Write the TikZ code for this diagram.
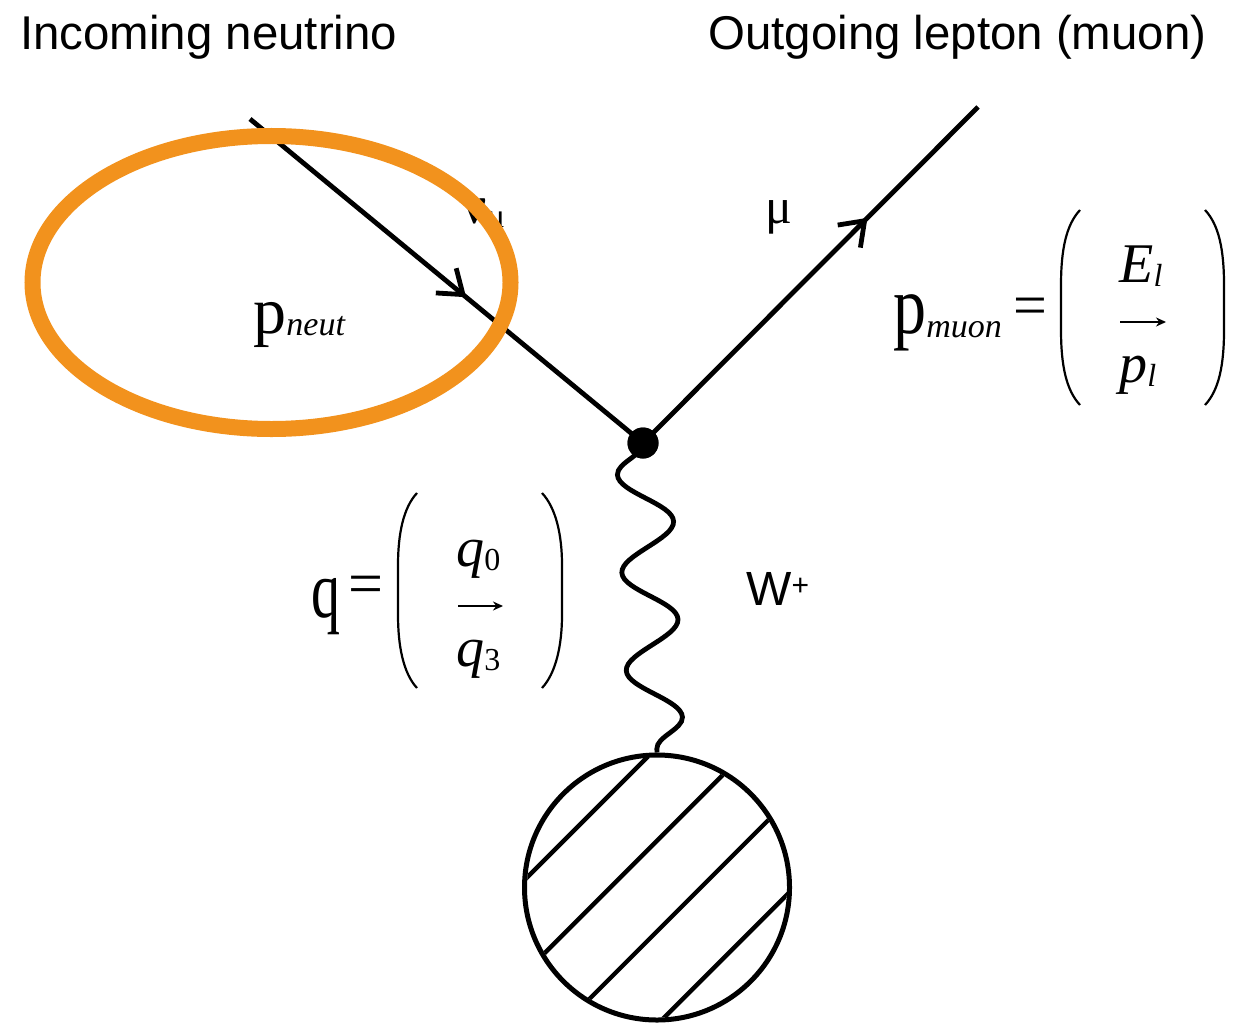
\documentclass[tikz,border=0pt]{standalone}
\usepackage{fontspec}
\setmainfont{Liberation Serif}
\newfontfamily\headfont{Liberation Sans}
\usetikzlibrary{
  arrows.meta,
  calc,
  decorations.pathmorphing,
  decorations.markings
}
\definecolor{ringorange}{RGB}{242,146,29}
\newcommand{\fsz}[1]{\fontsize{#1}{#1}\selectfont}
\newcommand{\tall}[2]{\scalebox{1}[#1]{#2}}
\tikzset{
  line cap=round,
  line join=round,
  fermion/.style={line width=2.4pt, postaction={decorate},
    decoration={markings, mark=at position #1 with {\arrow{Straight Barb[length=11pt,width=16pt]}}}},
  boson/.style={line width=2.4pt, decorate,
    decoration={snake, mirror, segment length=49pt, amplitude=13.5pt}},
  vertexdot/.style={circle, fill, inner sep=0pt, minimum size=15.5pt},
  blob/.style={circle, draw, line width=2.5pt, inner sep=0pt, minimum size=132.5pt},
  hatch/.style={line width=2.2pt},
  ring/.style={draw=ringorange, line width=8pt},
  txt/.style={inner sep=0pt, anchor=base west},
  head/.style={txt, font=\headfont\fsz{23.7}},
  entry/.style={txt, font=\fsz{28}\itshape},
  paren/.style={line width=1.1pt},
  vecarrow/.style={line width=1.2pt, -{Stealth[length=5pt,width=4.5pt]}}
}
\begin{document}
\begin{tikzpicture}[x=0.5pt,y=-0.5pt]
  \useasboundingbox (0,0) rectangle (1234,1027);

  % titles
  \node[head] (inlab) at (20,50) {Incoming neutrino};
  \node[head] (outlab) at (708,50) {Outgoing lepton (muon)};

  % vertex, legs and hadron blob
  \coordinate (nuin) at (250,119);
  \coordinate (muend) at (978,107);
  \node[vertexdot] (vtx) at (643,443) {};
  \node[blob] (had) at (657,887.5) {};

  \draw[fermion=0.55] (nuin) -- (vtx.center);
  \draw[fermion=0.67] (vtx.center) -- (muend);
  \draw[boson] (vtx.center) -- (had.north);
  \node[vertexdot] at (vtx) {};

  \begin{scope}
    \clip (had.center) circle[radius=65pt];
    \foreach \d in {-99,-33,31,97}
      \draw[hatch] ($(had.center)+(\d*0.7071-150,\d*0.7071+150)$) -- ++(300,-300);
  \end{scope}

  % labels
  \node[txt, font=\fsz{27}] (nulab) at (462,223) {ν\raisebox{-2pt}{\fsz{17}μ}};
  \node[txt, font=\fsz{25}] (mulab) at (765,223) {μ};
  \node[txt, font=\headfont\fsz{24}] (wlab) at (746,605) {W\raisebox{5pt}{\fsz{15}+}};
  \node[txt] (pneut) at (253,333) {\fsz{33}p\raisebox{-1pt}{\fsz{17}\itshape neut}};

  % p_muon four-vector
  \node[txt] (pmuon) at (893,333) {\tall{1.25}{\fsz{33}p}\raisebox{-2pt}{\fsz{17}\itshape muon}};
  \node[inner sep=0pt, font=\fsz{30}] (eqmu) at (1030,312) {=};
  \node[entry] (El) at (1119,282) {E\raisebox{-2pt}{\fsz{16}l}};
  \node[entry] (pl) at (1119,382) {p\raisebox{-2pt}{\fsz{16}l}};
  \draw[vecarrow] (1120,322) -- (1166,322);
  \draw[paren] (1080,210) .. controls (1066,225) and (1061,250) .. (1061,285) -- (1061,330)
    .. controls (1061,365) and (1066,390) .. (1080,405);
  \draw[paren] (1205,210) .. controls (1219,225) and (1224,250) .. (1224,285) -- (1224,330)
    .. controls (1224,365) and (1219,390) .. (1205,405);

  % q four-vector
  \node[txt] (qlab) at (311,617) {\tall{1.4}{\fsz{29}q}};
  \node[inner sep=0pt, font=\fsz{31}] (eqq) at (366,590) {=};
  \node[entry] (q0) at (456,566) {q\raisebox{-2pt}{\fsz{16}\upshape 0}};
  \node[entry] (q3) at (456,666) {q\raisebox{-2pt}{\fsz{16}\upshape 3}};
  \draw[vecarrow] (458,606) -- (503,606);
  \draw[paren] (417,493) .. controls (403,508) and (398,535) .. (398,565) -- (398,615)
    .. controls (398,645) and (403,673) .. (417,688);
  \draw[paren] (542,493) .. controls (556,508) and (562,535) .. (562,565) -- (562,615)
    .. controls (562,645) and (556,673) .. (542,688);

  % highlight ring
  \draw[ring] (271.5,282.5) ellipse[x radius=239, y radius=146.5];
\end{tikzpicture}
\end{document}
